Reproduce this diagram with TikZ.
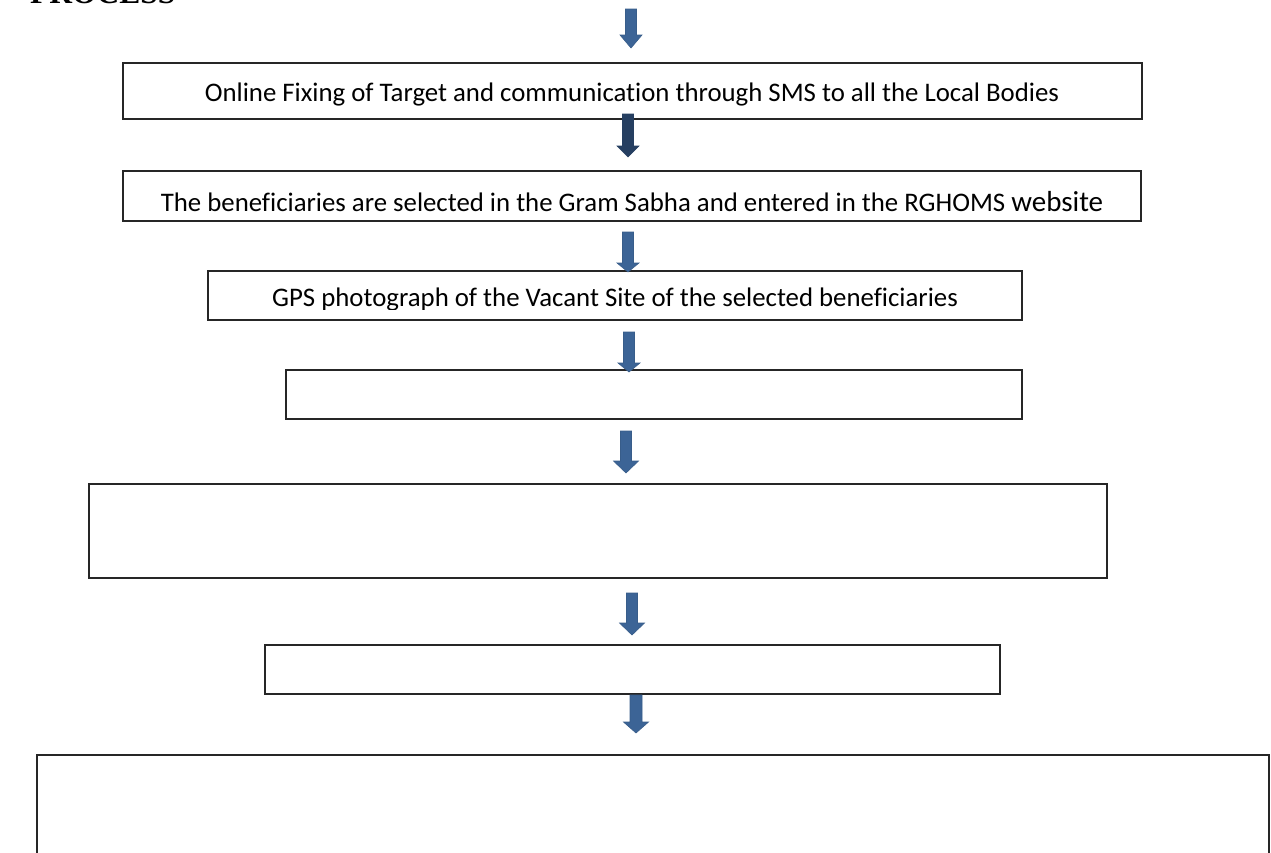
\documentclass[tikz,border=0pt]{standalone}
\usepackage{fontspec}
\setmainfont{Carlito}[Ligatures=NoCommon]
\newfontfamily\titlefont{Liberation Serif}
\begin{document}
\begin{tikzpicture}[x=1pt,y=-1pt,
  flowbox/.style={draw=black!85, line width=1.4pt, fill=white},
  flowtext/.style={font=\fontsize{26.8}{30}\selectfont, anchor=base, inner sep=0pt},
  arrowcol/.style={fill=arrowblue, draw=arrowedge, line width=0.6pt},
]
\definecolor{arrowblue}{HTML}{3C6496}
\definecolor{arrowedge}{HTML}{385D8A}
\definecolor{arrowdark}{HTML}{263F61}
\useasboundingbox (0,0) rectangle (1271,852);
\clip (0,0) rectangle (1271,852);
% title (cut off at top)
\node[anchor=base west, inner sep=0pt, font=\titlefont\bfseries\fontsize{31.5}{33}\selectfont] (title) at (30,3) {PROCESS};
% boxes
\draw[flowbox] (123,63) rectangle (1142,119);
\node[flowtext] (t1) at (632,101) {Online Fixing of Target and communication through SMS to all the Local Bodies};
\draw[flowbox] (123,171) rectangle (1141,221);
\node[flowtext] (t2) at (632,211) {The beneficiaries are selected in the Gram Sabha and entered in the RGHOMS {\fontsize{29}{32}\selectfont website}};
\draw[flowbox] (208,271) rectangle (1022,320);
\begin{scope}
\clip (208,271) rectangle (1022,309);
\node[flowtext] (t3) at (615,306) {GPS photograph of the Vacant Site of the selected beneficiaries};
\end{scope}
\draw[flowbox] (286,370) rectangle (1022,419);
\draw[flowbox] (89,484) rectangle (1107,578);
\draw[flowbox] (265,645) rectangle (1000,694);
\draw[flowbox] (37,755) rectangle (1269,880);
% arrows: shaft centre x, top y, head base y, tip y, shaft half-width, head half-width, style
\newcommand{\downarrowshape}[7]{%
  \path[#7] (#1-#5,#2) -- (#1+#5,#2) -- (#1+#5,#3) -- (#1+#6,#3) -- (#1,#4) -- (#1-#6,#3) -- (#1-#5,#3) -- cycle;}
\downarrowshape{631}{9}{35}{48}{5.5}{11}{arrowcol}
\downarrowshape{628}{114}{146}{157}{5.5}{11}{fill=arrowdark, draw=arrowdark, line width=0.6pt}
\downarrowshape{628}{232}{263}{272}{5.5}{11}{arrowcol}
\downarrowshape{629}{332}{363}{372}{5.5}{11}{arrowcol}
\downarrowshape{626}{431}{461}{473}{5.5}{12.5}{arrowcol}
\downarrowshape{632}{593}{623}{635}{5.5}{12.5}{arrowcol}
\downarrowshape{636}{695}{722}{733}{6}{12.5}{arrowcol}
\end{tikzpicture}
\end{document}
